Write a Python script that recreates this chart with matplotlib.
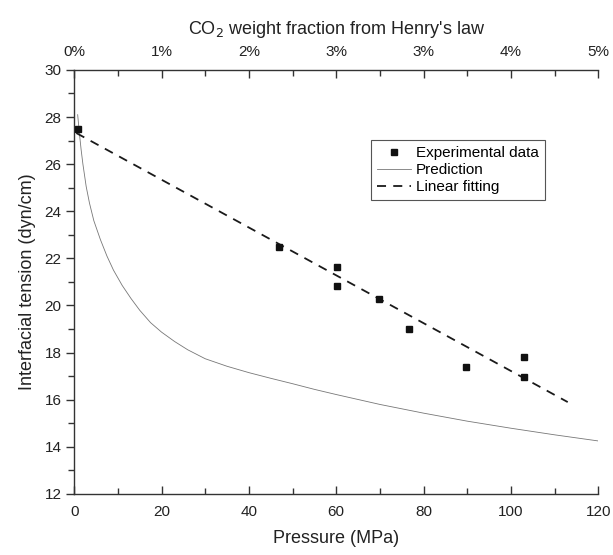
import numpy as np
import matplotlib
matplotlib.use("Agg")
import matplotlib.pyplot as plt
from matplotlib.ticker import MultipleLocator, FixedLocator, FixedFormatter

plt.rcParams['font.family'] = ['Liberation Sans', 'DejaVu Sans']

# experimental points (pressure MPa, IFT dyn/cm)
exp_p = [0.8, 47.0, 60.2, 60.2, 69.7, 76.6, 89.8, 103.0, 103.0]
exp_ift = [27.5, 22.47, 21.65, 20.83, 20.28, 18.99, 17.4, 17.8, 16.98]

# model prediction curve
pred_p = [0.8, 1.2, 1.6, 2.0, 2.75, 3.5, 4.5, 6.0, 7.5, 9.0, 11.0, 13.0, 15.0,
          17.5, 20.0, 23.0, 26.0, 30.0, 35.0, 40.0, 45.0, 50.0, 55.0, 60.0,
          70.0, 80.0, 90.0, 100.0, 110.0, 120.0]
pred_ift = [28.1, 27.3, 26.6, 26.0, 25.05, 24.35, 23.6, 22.8, 22.1, 21.5, 20.85,
            20.3, 19.8, 19.27, 18.87, 18.47, 18.12, 17.74, 17.42, 17.15, 16.91,
            16.68, 16.44, 16.22, 15.8, 15.43, 15.09, 14.79, 14.51, 14.25]

# linear fit end points
fit_p = [0.5, 113.0]
fit_ift = [27.32, 15.9]

# top axis: CO2 weight fraction
top_ticks = [0, 20, 40, 60, 80, 100, 120]
top_labels = ['0%', '1%', '2%', '3%', '3%', '4%', '5%']

fig = plt.figure(figsize=(6.13, 5.55), dpi=100)
ax = fig.add_axes([0.121, 0.110, 0.855, 0.764])

ax.plot(pred_p, pred_ift, color='#777777', lw=0.6, ls='-', label='Prediction', zorder=2)
ax.plot(fit_p, fit_ift, color='#1a1a1a', lw=1.3, ls=(0, (5, 4)), label='Linear fitting', zorder=3)
ax.plot(exp_p, exp_ift, ls='none', marker='s', ms=4.5, color='#111111',
        label='Experimental data', zorder=4)

ax.set_xlim(0, 120)
ax.set_ylim(12, 30)
ax.xaxis.set_major_locator(MultipleLocator(20))
ax.xaxis.set_minor_locator(MultipleLocator(10))
ax.yaxis.set_major_locator(MultipleLocator(2))
ax.yaxis.set_minor_locator(MultipleLocator(1))

spine_col = '#333333'
for s in ['top', 'right']:
    ax.spines[s].set_visible(False)
for s in ['left', 'bottom']:
    ax.spines[s].set_color(spine_col)
    ax.spines[s].set_linewidth(1.0)

ax.tick_params(axis='x', which='major', direction='in', length=6, width=1, colors=spine_col,
               labelcolor='#222222', labelsize=11, pad=8)
ax.tick_params(axis='x', which='minor', direction='in', length=4, width=1, colors=spine_col)
ax.tick_params(axis='y', which='major', direction='out', length=6, width=1, colors=spine_col,
               labelcolor='#222222', labelsize=11, pad=3)
ax.tick_params(axis='y', which='minor', direction='out', length=4, width=1, colors=spine_col)

ax.set_xlabel('Pressure (MPa)', fontsize=13, color='#222222', labelpad=8)
ax.set_ylabel('Interfacial tension (dyn/cm)', fontsize=13, color='#222222', labelpad=6)

top = ax.twiny()
top.set_xlim(ax.get_xlim())
top.xaxis.set_major_locator(FixedLocator(top_ticks))
top.xaxis.set_major_formatter(FixedFormatter(top_labels))
top.xaxis.set_minor_locator(MultipleLocator(10))
for s in ['left', 'right', 'bottom']:
    top.spines[s].set_visible(False)
top.spines['top'].set_color(spine_col)
top.spines['top'].set_linewidth(1.0)
top.tick_params(axis='x', which='major', direction='in', length=6, width=1, colors=spine_col,
                labelcolor='#222222', labelsize=11, pad=8)
top.tick_params(axis='x', which='minor', direction='in', length=4, width=1, colors=spine_col)
top.set_xlabel("CO$_2$ weight fraction from Henry's law", fontsize=13, color='#222222', labelpad=8)

h, l = ax.get_legend_handles_labels()
order = [2, 0, 1]
leg = ax.legend([h[i] for i in order], [l[i] for i in order],
                loc='upper left', bbox_to_anchor=(0.567, 0.835), fontsize=11,
                frameon=True, fancybox=False, edgecolor='#555555', framealpha=1,
                handlelength=2.2, handletextpad=0.3, borderpad=0.4, labelspacing=0.2,
                borderaxespad=0)
leg.get_frame().set_linewidth(0.8)

fig.savefig('out.png', dpi=100)
